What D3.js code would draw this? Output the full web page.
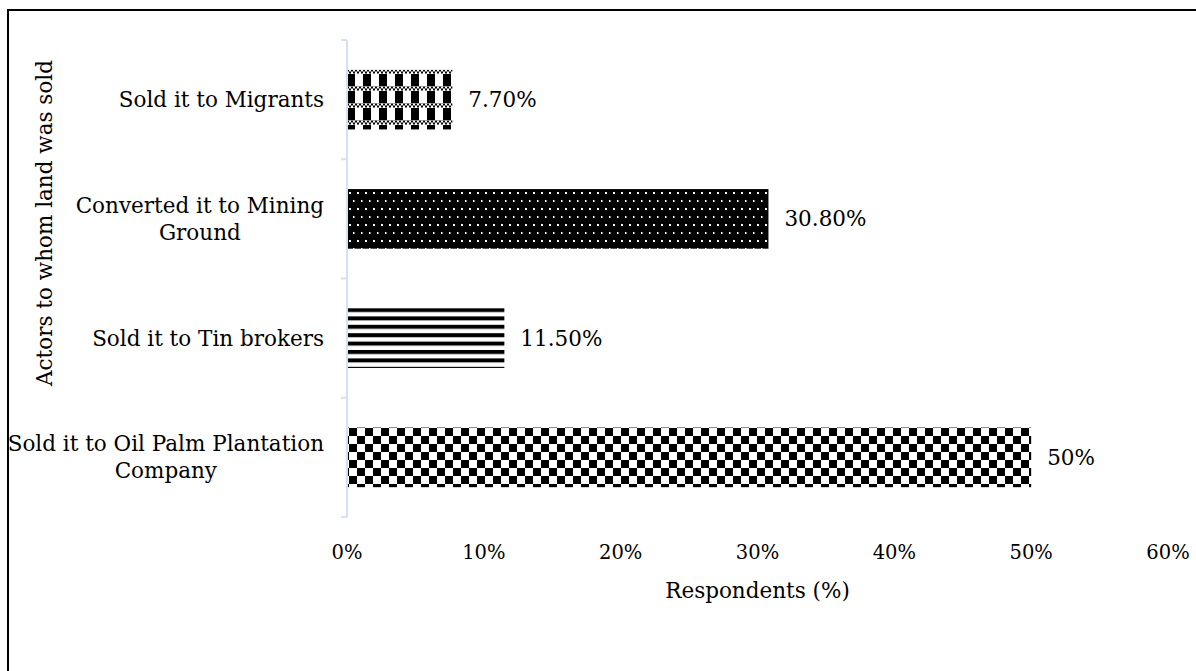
<!DOCTYPE html>
<html>
<head>
<meta charset="utf-8">
<script src="https://cdn.jsdelivr.net/npm/d3@7"></script>
<style>
  body { margin: 0; background: #fff; }
  text { font-family: "DejaVu Serif", serif; fill: #000; }
</style>
</head>
<body>
<svg width="1196" height="671"></svg>
<script>
// data
var categories = [
  "Sold it to Migrants",
  "Converted it to Mining Ground",
  "Sold it to Tin brokers",
  "Sold it to Oil Palm Plantation Company"
];
var labelLines = [
  ["Sold it to Migrants"],
  ["Converted it to Mining", "Ground"],
  ["Sold it to Tin brokers"],
  ["Sold it to Oil Palm Plantation", "Company"]
];
var values = [7.7, 30.8, 11.5, 50];
var valueLabels = ["7.70%", "30.80%", "11.50%", "50%"];
var xTicks = [0, 10, 20, 30, 40, 50, 60];
var patternIds = ["pMigrants", "pMining", "pTin", "pOil"];

var svg = d3.select("svg"),
    fontSize = 21.5,
    axisColor = "#d6e0f2";

// frame of the picture (only left and top edges show)
svg.append("path")
    .attr("d", "M8,671 L8,10 L1196,10")
    .attr("fill", "none")
    .attr("stroke", "#000")
    .attr("stroke-width", 2);

var x = d3.scaleLinear().domain([0, 60]).range([347, 1168]);
var y = d3.scaleBand().domain(categories).range([40, 517]).paddingInner(0.5).paddingOuter(0.25);

// patterns
var defs = svg.append("defs");

// checker with fine-check rows
var p1 = defs.append("pattern").attr("id", "pMigrants")
    .attr("patternUnits", "userSpaceOnUse").attr("width", 16).attr("height", 17)
    .attr("x", 347).attr("y", 69);
p1.append("rect").attr("width", 16).attr("height", 17).attr("fill", "#fff");
p1.append("rect").attr("x", 0).attr("y", 5).attr("width", 8).attr("height", 12).attr("fill", "#000");
for (var i = 0; i < 8; i++) {
  for (var j = 0; j < 2; j++) {
    if ((i + j) % 2 === 0) {
      p1.append("rect").attr("x", i * 2).attr("y", 0.5 + j * 2).attr("width", 2).attr("height", 2).attr("fill", "#000");
    }
  }
}
p1.append("rect").attr("x", 0).attr("y", 0).attr("width", 16).attr("height", 0.6).attr("fill", "#777");

// black with white dots
var p2 = defs.append("pattern").attr("id", "pMining")
    .attr("patternUnits", "userSpaceOnUse").attr("width", 8).attr("height", 16)
    .attr("x", 347).attr("y", 189);
p2.append("rect").attr("width", 8).attr("height", 16).attr("fill", "#000");
p2.append("rect").attr("x", 2).attr("y", 3).attr("width", 2).attr("height", 2).attr("fill", "#fff");
p2.append("rect").attr("x", 6).attr("y", 11).attr("width", 1.5).attr("height", 2).attr("fill", "#fff");

// horizontal stripes
var p3 = defs.append("pattern").attr("id", "pTin")
    .attr("patternUnits", "userSpaceOnUse").attr("width", 8).attr("height", 8.4)
    .attr("x", 347).attr("y", 308);
p3.append("rect").attr("width", 8).attr("height", 8.4).attr("fill", "#fff");
p3.append("rect").attr("y", 0).attr("width", 8).attr("height", 4).attr("fill", "#000");

// checkerboard
var p4 = defs.append("pattern").attr("id", "pOil")
    .attr("patternUnits", "userSpaceOnUse").attr("width", 16).attr("height", 16)
    .attr("x", 349).attr("y", 428);
p4.append("rect").attr("width", 16).attr("height", 16).attr("fill", "#fff");
p4.append("rect").attr("x", 0).attr("y", 0).attr("width", 8).attr("height", 8).attr("fill", "#000");
p4.append("rect").attr("x", 8).attr("y", 8).attr("width", 8).attr("height", 8).attr("fill", "#000");

// bars
svg.selectAll(".bar")
    .data(categories)
    .enter().append("rect")
    .attr("class", "bar")
    .attr("x", x(0))
    .attr("y", function(d) { return y(d); })
    .attr("width", function(d, i) { return x(values[i]) - x(0); })
    .attr("height", y.bandwidth())
    .attr("fill", function(d, i) { return "url(#" + patternIds[i] + ")"; });

// value labels
svg.selectAll(".val")
    .data(categories)
    .enter().append("text")
    .attr("class", "val")
    .attr("x", function(d, i) { return x(values[i]) + 16; })
    .attr("y", function(d) { return y(d) + y.bandwidth() / 2; })
    .attr("dy", "0.35em")
    .attr("font-size", fontSize)
    .text(function(d, i) { return valueLabels[i]; });

// y axis: vertical line with outward ticks at band edges
var step = y.step();
var edges = [40];
categories.forEach(function(d) { edges.push(y(d) - step * 0.25 + step); });
var ax = svg.append("g").attr("stroke", axisColor).attr("stroke-width", 2).attr("fill", "none");
ax.append("line").attr("x1", x(0)).attr("x2", x(0)).attr("y1", 40).attr("y2", 517);
ax.selectAll(".tk").data(edges).enter().append("line")
    .attr("x1", x(0) - 6).attr("x2", x(0))
    .attr("y1", function(d) { return d; }).attr("y2", function(d) { return d; });

// category labels: block right aligned, lines centered
var lineH = 27;
categories.forEach(function(c, i) {
  var lines = labelLines[i];
  var g = svg.append("g");
  var cy = y(c) + y.bandwidth() / 2 - (lines.length - 1) * lineH / 2;
  var ts = lines.map(function(l, k) {
    return g.append("text")
      .attr("font-size", fontSize)
      .attr("text-anchor", "middle")
      .attr("y", cy + k * lineH)
      .attr("dy", "0.35em")
      .text(l);
  });
  var maxW = d3.max(ts, function(t) { return t.node().getComputedTextLength(); });
  ts.forEach(function(t) { t.attr("x", 324 - maxW / 2); });
});

// x tick labels (no axis line)
svg.selectAll(".xt")
    .data(xTicks)
    .enter().append("text")
    .attr("class", "xt")
    .attr("x", function(d) { return x(d); })
    .attr("y", 552)
    .attr("dy", "0.35em")
    .attr("text-anchor", "middle")
    .attr("font-size", 19.5)
    .text(function(d) { return d + "%"; });

// axis titles
svg.append("text")
    .attr("x", x(30))
    .attr("y", 590)
    .attr("dy", "0.35em")
    .attr("text-anchor", "middle")
    .attr("font-size", fontSize)
    .text("Respondents (%)");

svg.append("text")
    .attr("transform", "translate(44,223) rotate(-90)")
    .attr("dy", "0.35em")
    .attr("text-anchor", "middle")
    .attr("font-size", fontSize)
    .text("Actors to whom land was sold");
</script>
</body>
</html>
